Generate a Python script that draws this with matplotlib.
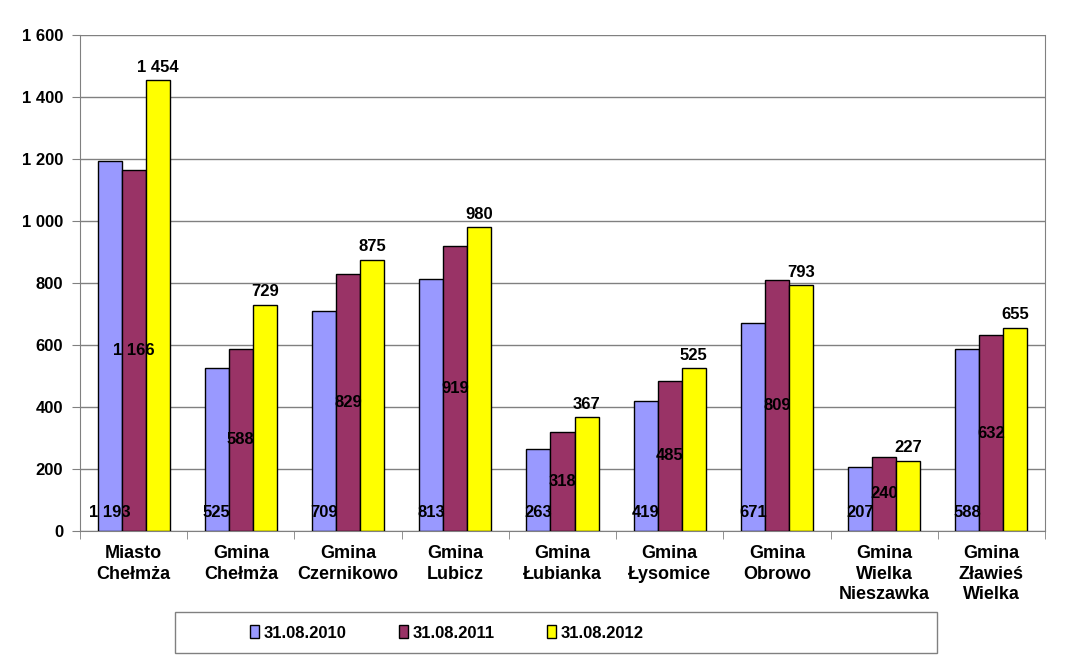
import matplotlib
matplotlib.use("Agg")
import matplotlib.pyplot as plt
from matplotlib.patches import Rectangle
import numpy as np

plt.rcParams['font.family'] = ['Liberation Sans', 'DejaVu Sans']
plt.rcParams['font.weight'] = 'bold'

categories = ["Miasto\nChełmża", "Gmina\nChełmża", "Gmina\nCzernikowo", "Gmina\nLubicz",
              "Gmina\nŁubianka", "Gmina\nŁysomice", "Gmina\nObrowo",
              "Gmina\nWielka\nNieszawka", "Gmina\nZławieś\nWielka"]
series_names = ["31.08.2010", "31.08.2011", "31.08.2012"]
v2010 = [1193, 525, 709, 813, 263, 419, 671, 207, 588]
v2011 = [1166, 588, 829, 919, 318, 485, 809, 240, 632]
v2012 = [1454, 729, 875, 980, 367, 525, 793, 227, 655]
colors = ["#9999FF", "#993366", "#FFFF00"]
yticks = [0, 200, 400, 600, 800, 1000, 1200, 1400, 1600]

def fmt(v):
    return f"{v:,}".replace(",", " ")

fig = plt.figure(figsize=(10.75, 6.58), dpi=100)
ax = fig.add_axes([80/1075, 1-531/658, 965/1075, 496/658])

x = np.arange(len(categories))
w = 0.224
data = [v2010, v2011, v2012]
bars = []
for i, (vals, c, n) in enumerate(zip(data, colors, series_names)):
    b = ax.bar(x + (i-1)*w, vals, w, color=c, edgecolor='black', linewidth=1.0, label=n, zorder=3)
    bars.append(b)

fs = 12
for xi, v in zip(x, v2010):
    ax.annotate(fmt(v), (xi - w, 0), xytext=(0, 13), textcoords='offset points',
                ha='center', va='center', fontsize=fs, fontweight='bold', zorder=5)
for xi, v in zip(x, v2011):
    ax.text(xi, v/2, fmt(v), ha='center', va='center', fontsize=fs, fontweight='bold', zorder=5)
for xi, v in zip(x, v2012):
    ax.annotate(fmt(v), (xi + w, v), xytext=(0, 4), textcoords='offset points',
                ha='center', va='bottom', fontsize=fs, fontweight='bold', zorder=5)

ax.set_xlim(-0.5, len(categories)-0.5)
ax.set_ylim(0, 1600)
ax.set_yticks(yticks)
ax.set_yticklabels([fmt(t) for t in yticks], fontsize=fs, fontweight='bold')
ax.yaxis.grid(True, color='#808080', linewidth=1.0, zorder=0)
ax.set_xticks(x)
ax.set_xticklabels(categories, fontsize=13, fontweight='bold', linespacing=1.28)
ax.tick_params(axis='x', length=0, pad=10)
ax.set_xticks(np.arange(-0.5, len(categories)), minor=True)
ax.tick_params(axis='x', which='minor', length=6, color='#808080')
ax.tick_params(axis='y', length=6, color='#808080', pad=6)
ax.spines['top'].set_visible(False)
for s in ['right', 'left', 'bottom']:
    ax.spines[s].set_color('#808080')

# legend frame (wider than the entries, as in the reference)
fig.patches.append(Rectangle((175/1075, 1-653/658), (937-175)/1075, 41/658,
                             transform=fig.transFigure, fill=False,
                             edgecolor='#808080', linewidth=1.0))
leg = fig.legend(handles=bars, labels=series_names, loc='center',
                 bbox_to_anchor=(447/1075, 1-633/658), ncol=3,
                 prop={'weight': 'bold', 'size': 12},
                 frameon=False, handlelength=0.5, handleheight=0.8, handletextpad=0.3,
                 columnspacing=3.16, borderpad=0.0)

fig.savefig("out.png", dpi=100)
